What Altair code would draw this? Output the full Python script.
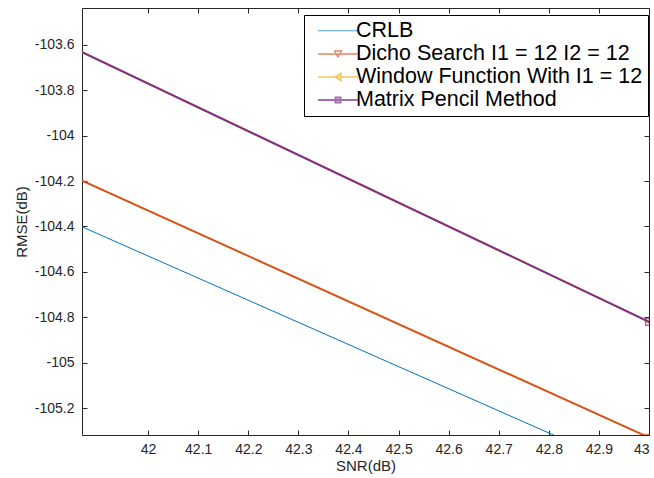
import altair as alt
import pandas as pd

# SNR sample points (dB) and the RMSE of each estimator (dB)
snr = [39, 41, 43, 45]
crlb = [-101.605, -103.555, -105.505, -107.455]
dicho = [-101.33, -103.33, -105.33, -107.33]
window_fn = [-100.62, -102.72, -104.82, -106.92]
pencil = [-100.62, -102.72, -104.82, -106.92]

series_names = [
    "CRLB",
    "Dicho Search I1 = 12 I2 = 12",
    "Window Function With I1 = 12",
    "Matrix Pencil Method",
]
series_values = [crlb, dicho, window_fn, pencil]
colors = ["#0072BD", "#D95319", "#EDB120", "#7E2F8E"]
widths = [1, 2, 2, 2]
markers = [None, "triangle-down", "triangle-left", "square"]
# legend glyphs: a line with the marker drawn on top of it
legend_glyphs = [
    "M-2,0H2",
    "M-2,0H2M-0.35,-0.3L0.35,-0.3L0,0.3Z",
    "M-2,0H2M0.3,-0.35L0.3,0.35L-0.3,0Z",
    "M-2,0H2M-0.25,-0.25H0.25V0.25H-0.25Z",
]

x_ticks = [42.0, 42.1, 42.2, 42.3, 42.4, 42.5, 42.6, 42.7, 42.8, 42.9, 43.0]
y_ticks = [-105.2, -105.0, -104.8, -104.6, -104.4, -104.2, -104.0, -103.8, -103.6]
x_domain = [41.868, 43.0]
y_domain = [-105.319, -103.437]

rows = []
for name, vals in zip(series_names, series_values):
    for s, v in zip(snr, vals):
        rows.append({"snr": s, "rmse": v, "series": name})
df = pd.DataFrame(rows)

FONT = "Liberation Sans"
INK = "#262626"
# plain hyphen for negative numbers
LABEL_EXPR = "replace(format(datum.value, '~g'), '\u2212', '-')"

xs = alt.Scale(domain=x_domain, nice=False, zero=False)
ys = alt.Scale(domain=y_domain, nice=False, zero=False)

x_bottom = alt.Axis(
    values=x_ticks, labelExpr=LABEL_EXPR, grid=False, domain=False, offset=-5,
    tickSize=5, tickColor=INK, labelPadding=7, labelFontSize=14,
    labelColor=INK, labelFont=FONT, title="SNR(dB)", titleFont=FONT,
    titleFontSize=15, titleFontWeight="normal", titleColor=INK,
    titlePadding=2,
)
y_left = alt.Axis(
    values=y_ticks, labelExpr=LABEL_EXPR, grid=False, domain=False, offset=-5,
    tickSize=5, tickColor=INK, labelPadding=8, labelFontSize=14,
    labelColor=INK, labelFont=FONT, title="RMSE(dB)", titleFont=FONT,
    titleFontSize=15, titleFontWeight="normal", titleColor=INK,
    titlePadding=5,
)
x_top = alt.Axis(
    orient="top", values=x_ticks, grid=False, domain=False, offset=-5,
    tickSize=5, tickColor=INK, labels=False, title=None,
)
y_right = alt.Axis(
    orient="right", values=y_ticks, grid=False, domain=False, offset=-5,
    tickSize=5, tickColor=INK, labels=False, title=None,
)

layers = []
for i, (name, color, w, mk) in enumerate(zip(series_names, colors, widths, markers)):
    sub = df[df["series"] == name]
    base = alt.Chart(sub)
    line = base.mark_line(clip=True, color=color, strokeWidth=w).encode(
        x=alt.X("snr:Q", scale=xs, axis=x_bottom if i == 0 else None),
        y=alt.Y("rmse:Q", scale=ys, axis=y_left if i == 0 else None),
    )
    layers.append(line)
    if mk is not None:
        pts = base.mark_point(
            clip=True, shape=mk, filled=False, color=color, size=45, strokeWidth=1.5
        ).encode(
            x=alt.X("snr:Q", scale=xs, axis=None),
            y=alt.Y("rmse:Q", scale=ys, axis=None),
        )
        layers.append(pts)

# legend host: points sit outside the visible domain and are clipped away
leg_df = df[df["snr"] == snr[0]]
legend_cfg = dict(title=None, orient="none", legendX=222, legendY=7)
legend_layer = alt.Chart(leg_df).mark_point(
    clip=True, filled=False, size=400
).encode(
    x=alt.X("snr:Q", scale=xs, axis=x_top),
    y=alt.Y("rmse:Q", scale=ys, axis=y_right),
    color=alt.Color(
        "series:N",
        scale=alt.Scale(domain=series_names, range=colors),
        legend=alt.Legend(
            **legend_cfg,
            symbolSize=400, symbolOffset=18, labelOffset=7,
            labelFont=FONT, labelFontSize=21.5, labelColor="black",
            labelLimit=400, rowPadding=1, padding=5,
            strokeColor="black", fillColor="white",
            symbolFillColor="white",
        ),
    ),
    shape=alt.Shape(
        "series:N",
        scale=alt.Scale(domain=series_names, range=legend_glyphs),
        legend=alt.Legend(**legend_cfg),
    ),
    strokeWidth=alt.StrokeWidth(
        "series:N",
        scale=alt.Scale(domain=series_names, range=widths),
        legend=alt.Legend(**legend_cfg),
    ),
)
layers.append(legend_layer)

chart = (
    alt.layer(*layers)
    .resolve_axis(x="independent", y="independent")
    .properties(
        width=567,
        height=427,
        autosize=alt.AutoSizeParams(type="none"),
        padding={"left": 82, "top": 8, "right": 5, "bottom": 43},
        background="white",
    )
    .configure_view(stroke=INK, strokeWidth=1)
)

chart.save("out.html", embed_options={"renderer": "svg", "actions": False})
